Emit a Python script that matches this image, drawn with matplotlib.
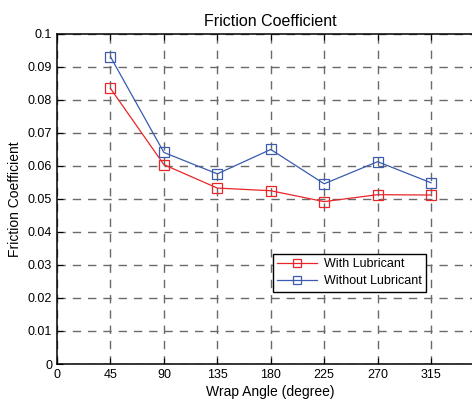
import matplotlib.pyplot as plt

plt.rcParams['font.family'] = ['Liberation Sans', 'DejaVu Sans']

# Data
angles = [45, 90, 135, 180, 225, 270, 315]
with_lub = [0.0835, 0.0604, 0.0533, 0.0525, 0.0492, 0.0513, 0.0512]
without_lub = [0.0931, 0.0641, 0.0576, 0.0650, 0.0546, 0.0613, 0.0549]
x_ticks = [0, 45, 90, 135, 180, 225, 270, 315, 360]
y_ticks = [0, 0.01, 0.02, 0.03, 0.04, 0.05, 0.06, 0.07, 0.08, 0.09, 0.1]

fig = plt.figure(figsize=(4.72, 4.04), dpi=100)
ax = fig.add_axes([0.1208, 0.099, 0.9056, 0.817])

ax.plot(angles, with_lub, color='#e8262a', lw=0.9, marker='s', ms=7,
        mfc='none', mec='#e8262a', mew=0.9, label='With Lubricant')
ax.plot(angles, without_lub, color='#3a5bb0', lw=0.9, marker='s', ms=7,
        mfc='none', mec='#3a5bb0', mew=0.9, label='Without Lubricant')

ax.set_xlim(0, 360)
ax.set_ylim(0, 0.1)
ax.set_xticks(x_ticks[:-1])
ax.set_yticks(y_ticks)
ax.set_yticklabels(['0'] + [f'{v:g}' for v in y_ticks[1:]])
ax.tick_params(direction='in', labelsize=9, top=True, right=True, length=4)
ax.grid(True, color='#6a6a6a', linestyle=(0, (6, 5)), lw=1.0)
for s in ax.spines.values():
    s.set_linewidth(1.1)

ax.set_title('Friction Coefficient', fontsize=11.5)
ax.set_xlabel('Wrap Angle (degree)', fontsize=10, labelpad=3)
ax.set_ylabel('Friction Coefficient', fontsize=10)

leg = ax.legend(loc='upper left', bbox_to_anchor=(0.505, 0.333), borderaxespad=0,
                fancybox=False, edgecolor='black', fontsize=9, framealpha=1,
                handlelength=3.2, borderpad=0.35, markerscale=0.75,
                handletextpad=0.5, labelspacing=0.4)
leg.get_frame().set_linewidth(1.0)

fig.savefig('out.png', dpi=100)
